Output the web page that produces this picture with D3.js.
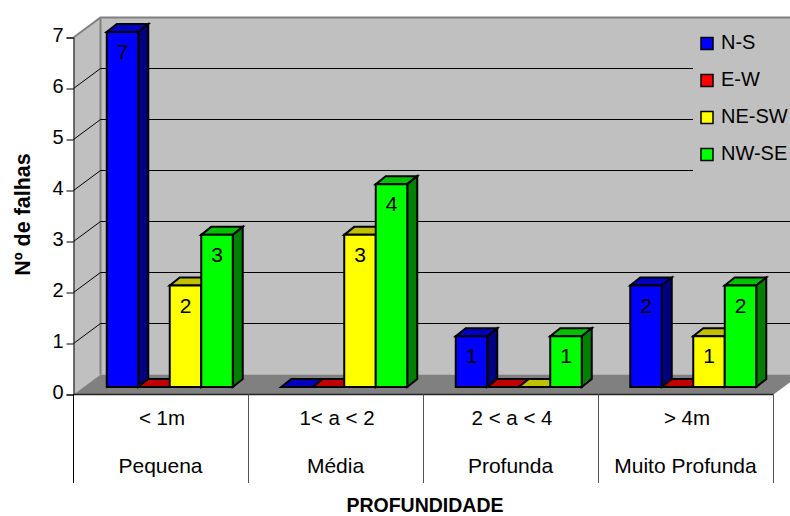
<!DOCTYPE html>
<html>
<head>
<meta charset="utf-8">
<script src="https://cdn.jsdelivr.net/npm/d3@7/dist/d3.min.js"></script>
<style>
html,body{margin:0;padding:0;background:#fff}
svg{display:block}
text{font-family:"Liberation Sans",Arial,sans-serif;fill:#000}
</style>
</head>
<body>
<svg id="chart" width="790" height="516"></svg>
<script>
// Fault counts per depth class and strike direction
const depthRanges = ["< 1m", "1< a < 2", "2 < a < 4", "> 4m"];
const depthNames = ["Pequena", "Média", "Profunda", "Muito Profunda"];
const seriesNames = ["N-S", "E-W", "NE-SW", "NW-SE"];
const valuesNS = [7, 0, 1, 2];
const valuesEW = [0, 0, 0, 0];
const valuesNESW = [2, 3, 0, 1];
const valuesNWSE = [3, 4, 1, 2];
const yTicks = [0, 1, 2, 3, 4, 5, 6, 7];
const frontColors = ["#0000ff", "#ff0000", "#ffff00", "#00ff00"];
const topColors = ["#0000c0", "#c00000", "#c0c000", "#00c000"];
const sideColors = ["#000080", "#800000", "#808000", "#008000"];

const allValues = [valuesNS, valuesEW, valuesNESW, valuesNWSE];
const svg = d3.select("#chart");

// Oblique projection: the wall sits behind the axis plane, bars on a plane between them
const wallDx = 27, wallDy = -20;
const depthX = 10, depthY = -8;

const x = d3.scaleBand().domain(d3.range(depthRanges.length)).range([73.5, 773.5]);
const y = d3.scaleLinear().domain([0, 7]).range([394.5, 37.5]);

// The bar plane is slightly foreshortened compared with the axis plane
const xBar = d3.scaleBand().domain(x.domain()).range([82.5, 780.5]);
const inner = d3.scaleBand().domain(d3.range(seriesNames.length))
  .range([0, xBar.bandwidth()]).paddingOuter(0.77).paddingInner(0);
const yBar = d3.scaleLinear().domain([0, 7]).range([387, 32]);

const poly = pts => pts.map(p => p.join(",")).join(" ");
const x0 = x.range()[0], x1 = x.range()[1];

// Back wall, side wall, floor
svg.append("polygon").attr("fill", "#c0c0c0")
  .attr("points", poly([[x0 + wallDx, y(7) + wallDy], [x1 + wallDx, y(7) + wallDy], [x1 + wallDx, y(0) + wallDy], [x0 + wallDx, y(0) + wallDy]]));
svg.append("polygon").attr("fill", "#c0c0c0")
  .attr("points", poly([[x0, y(7)], [x0 + wallDx, y(7) + wallDy], [x0 + wallDx, y(0) + wallDy], [x0, y(0)]]));
svg.append("polygon").attr("fill", "#808080")
  .attr("points", poly([[x0, y(0)], [x1, y(0)], [x1 + wallDx, y(0) + wallDy], [x0 + wallDx, y(0) + wallDy]]));

// Wall outline
svg.append("polyline").attr("fill", "none").attr("stroke", "#808080").attr("stroke-width", 2)
  .attr("points", poly([[x0, y(7)], [x0 + wallDx, y(7) + wallDy], [x1 + wallDx, y(7) + wallDy]]));
svg.append("line").attr("stroke", "#808080").attr("stroke-width", 2)
  .attr("x1", x0 + wallDx).attr("x2", x0 + wallDx).attr("y1", y(7) + wallDy).attr("y2", y(0) + wallDy);

// Gridlines run across the side wall and along the back wall
svg.append("g").selectAll("polyline").data(yTicks.filter(t => t > 0 && t < 7)).join("polyline")
  .attr("fill", "none").attr("stroke", "#000").attr("stroke-width", 1)
  .attr("points", t => poly([[x0, y(t)], [x0 + wallDx, y(t) + wallDy], [x1 + wallDx, y(t) + wallDy]]));

// Legend panel hides the gridlines behind it
const legendX = 693;
svg.append("rect").attr("x", legendX).attr("y", 20).attr("width", 97).attr("height", 170).attr("fill", "#c0c0c0");

// Bars, drawn left to right so each one overlaps the side of the previous one
const bars = svg.append("g").attr("stroke", "#000").attr("stroke-width", 2).attr("stroke-linejoin", "miter");
depthRanges.forEach((_, c) => {
  seriesNames.forEach((_, s) => {
    const v = allValues[s][c];
    const l = xBar(c) + inner(s), r = l + inner.bandwidth();
    const b = yBar(0), t = yBar(v);
    bars.append("polygon").attr("fill", topColors[s])
      .attr("points", poly([[l, t], [r, t], [r + depthX, t + depthY], [l + depthX, t + depthY]]));
    if (v > 0) {
      bars.append("polygon").attr("fill", sideColors[s])
        .attr("points", poly([[r, t], [r + depthX, t + depthY], [r + depthX, b + depthY], [r, b]]));
      bars.append("polygon").attr("fill", frontColors[s])
        .attr("points", poly([[l, t], [r, t], [r, b], [l, b]]));
    }
  });
});

// Value labels on the non-empty bars
depthRanges.forEach((_, c) => {
  seriesNames.forEach((_, s) => {
    const v = allValues[s][c];
    if (v === 0) return;
    svg.append("text")
      .attr("x", xBar(c) + inner(s) + inner.bandwidth() / 2)
      .attr("y", yBar(v) + 27)
      .attr("text-anchor", "middle").attr("font-size", 21).text(v);
  });
});

// Value axis
const yAxis = d3.axisLeft(y).tickValues(yTicks).tickSize(7).tickPadding(3).tickFormat(d3.format("d"));
const yG = svg.append("g").attr("transform", `translate(${x0},0)`).call(yAxis);
yG.select(".domain").attr("stroke", "#000").attr("stroke-width", 1);
yG.selectAll(".tick line").attr("stroke", "#000");
yG.selectAll(".tick text").attr("font-size", 20).attr("dy", "0.2em").attr("font-family", '"Liberation Sans",Arial,sans-serif').attr("fill", "#000");

// Category axis with its two label rows
svg.append("line").attr("stroke", "#222").attr("stroke-width", 1.5)
  .attr("x1", x0).attr("x2", x1).attr("y1", y(0)).attr("y2", y(0));
const seps = d3.range(depthRanges.length + 1);
svg.append("g").selectAll("line").data(seps).join("line")
  .attr("x1", i => i === 0 ? x0 : (i === seps.length - 1 ? x1 : x(i)))
  .attr("x2", i => i === 0 ? x0 : (i === seps.length - 1 ? x1 : x(i)))
  .attr("y1", y(0)).attr("y2", 483)
  .attr("stroke", (d, i) => i === 0 ? "#000" : "#555").attr("stroke-width", 1);
svg.append("g").selectAll("text").data(depthRanges).join("text")
  .attr("x", (d, i) => x(i) + x.bandwidth() / 2 + 1).attr("y", 425)
  .attr("text-anchor", "middle").attr("font-size", 20.5).text(d => d);
svg.append("g").selectAll("text").data(depthNames).join("text")
  .attr("x", (d, i) => x(i) + x.bandwidth() / 2 - 0.5).attr("y", 473)
  .attr("text-anchor", "middle").attr("font-size", 21).text(d => d);

// Axis titles
svg.append("text").attr("x", 425).attr("y", 511.8).attr("text-anchor", "middle")
  .attr("font-size", 19.5).attr("font-weight", "bold").text("PROFUNDIDADE");
svg.append("text").attr("transform", "translate(30,214.5) rotate(-90)").attr("text-anchor", "middle")
  .attr("font-size", 21.5).attr("font-weight", "bold").text("Nº de falhas");

// Legend entries
const legendY = d3.scalePoint().domain(seriesNames).range([43.5, 154.5]);
const legend = svg.append("g").selectAll("g").data(seriesNames).join("g")
  .attr("transform", d => `translate(${legendX},${legendY(d)})`);
legend.append("rect").attr("x", 8).attr("y", -6).attr("width", 12).attr("height", 12)
  .attr("fill", (d, i) => frontColors[i]).attr("stroke", "#000").attr("stroke-width", 1.5);
legend.append("text").attr("x", 28).attr("y", 5).attr("font-size", 20).text(d => d);
</script>
</body>
</html>
